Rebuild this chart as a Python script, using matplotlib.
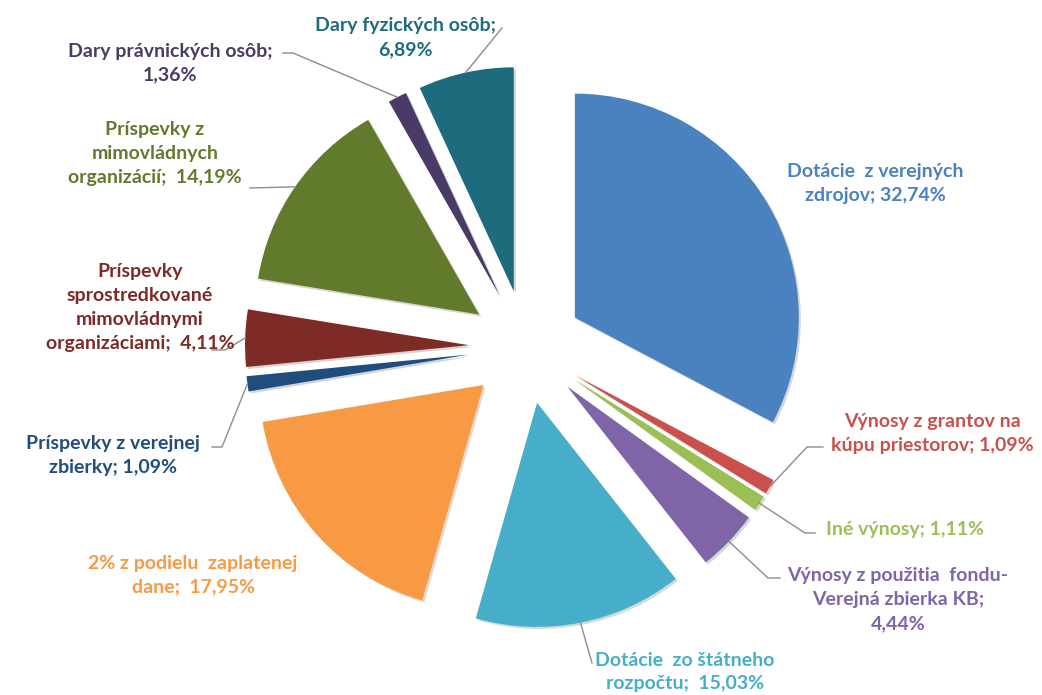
import numpy as np
import matplotlib
matplotlib.use("Agg")
import matplotlib.pyplot as plt
import matplotlib.patheffects as pe

# slices, clockwise from the top
labels = [
    "Dotácie  z verejných\nzdrojov; 32,74%",
    "Výnosy z grantov na\nkúpu priestorov; 1,09%",
    "Iné výnosy; 1,11%",
    "Výnosy z použitia  fondu-\nVerejná zbierka KB;\n4,44%",
    "Dotácie  zo štátneho\nrozpočtu;  15,03%",
    "2% z podielu  zaplatenej\ndane;  17,95%",
    "Príspevky z verejnej\nzbierky; 1,09%",
    "Príspevky\nsprostredkované\nmimovládnymi\norganizáciami;  4,11%",
    "Príspevky z\nmimovládnych\norganizácií;  14,19%",
    "Dary právnických osôb;\n1,36%",
    "Dary fyzických osôb;\n6,89%",
]
shares = [32.74, 1.09, 1.11, 4.44, 15.03, 17.95, 1.09, 4.11, 14.19, 1.36, 6.89]
colors = ["#4A82BF", "#C9504B", "#9BBF55", "#8064A8", "#46AEC9", "#F79A43",
          "#1F4E7E", "#7E2A26", "#627A2C", "#4A3A66", "#1E6B7D"]

# label placement (pixel coords, y from top) and leader-line elbows
label_pos = [(875, 184), (932, 434), (905, 530), (898, 600), (685, 672),
             (193, 575), (113, 455), (140, 308), (155, 153), (170, 63), (405, 38)]
elbows = [None, [(807, 447), (823, 447)], [(805, 533), (815, 533)],
          [(768, 578), (780, 578)], [(592, 663)], None,
          [(222, 447), (212, 447)], [(225, 350), (212, 350)],
          [(250, 188)], [(293, 53), (283, 53)], [(502, 28)]]

W, H = 1042, 695
cx, cy, R, off = 526, H - 347, 224, 57

fig = plt.figure(figsize=(W / 100, H / 100), dpi=100)
ax = fig.add_axes([0, 0, 1, 1])

# explode is an absolute offset here (same units as radius)
wedges, _ = ax.pie(shares, colors=colors, startangle=90, counterclock=False,
                   radius=R, center=(cx, cy), explode=[off] * len(shares),
                   wedgeprops=dict(linewidth=0))
for w in wedges:
    w.set_path_effects([pe.SimplePatchShadow(offset=(1.5, -1.5), alpha=0.18),
                        pe.Normal()])

for w, lab, col, pos, elb in zip(wedges, labels, colors, label_pos, elbows):
    mid = np.deg2rad((w.theta1 + w.theta2) / 2)
    wx, wy = w.center
    if elb:
        xs = [wx + R * np.cos(mid)] + [p[0] for p in elb]
        ys = [wy + R * np.sin(mid)] + [H - p[1] for p in elb]
        ax.plot(xs, ys, color="#8C8C8C", lw=1.0, zorder=1)
    ax.text(pos[0], H - pos[1], lab, color=col, ha="center", va="center",
            multialignment="center", fontsize=14, fontweight="bold",
            family=["Lato", "DejaVu Sans"], linespacing=1.5)

ax.set_xlim(0, W)
ax.set_ylim(0, H)
ax.set_aspect("equal")
ax.axis("off")

fig.savefig("out.png", dpi=100)
